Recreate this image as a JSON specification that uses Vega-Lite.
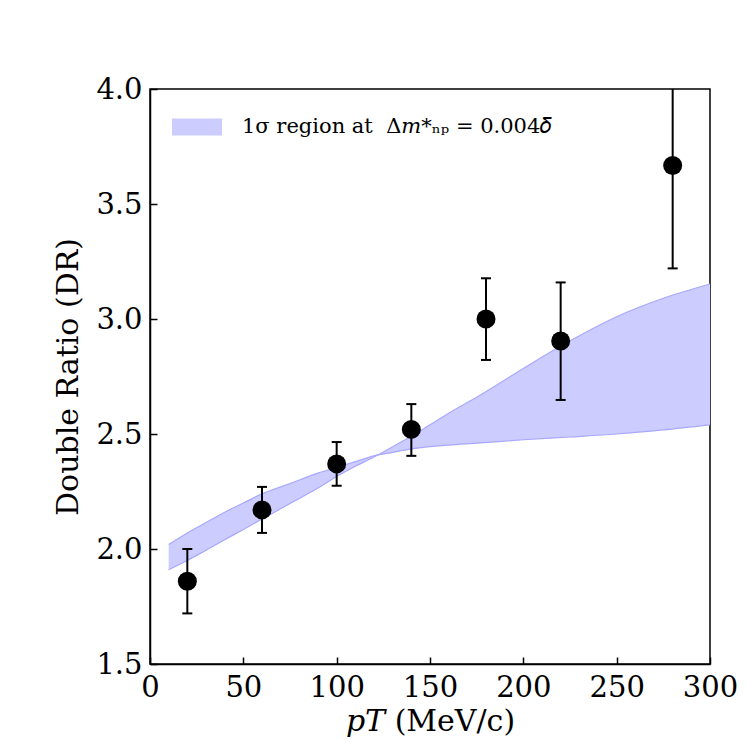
{
  "$schema": "https://vega.github.io/schema/vega-lite/v6.json",
  "autosize": "none",
  "width": 560,
  "height": 575,
  "padding": {"left": 150, "top": 89, "right": 37, "bottom": 83},
  "background": "white",
  "config": {
    "font": "DejaVu Serif",
    "view": {"stroke": "black", "strokeWidth": 1.5},
    "axis": {
      "domainColor": "black",
      "domainWidth": 1.5,
      "tickColor": "black",
      "tickWidth": 1.5,
      "tickSize": -7,
      "grid": false,
      "labelFlush": false,
      "labelFont": "DejaVu Serif",
      "labelFontSize": 29,
      "labelColor": "black",
      "titleFont": "DejaVu Serif",
      "titleFontSize": 30,
      "titleFontWeight": "normal",
      "titleColor": "black"
    }
  },
  "datasets": {
    "band": [
      {"pt": 10, "a": 2.02, "b": 1.91},
      {"pt": 20, "a": 2.07, "b": 1.95},
      {"pt": 30, "a": 2.115, "b": 1.995},
      {"pt": 40, "a": 2.16, "b": 2.04},
      {"pt": 50, "a": 2.2, "b": 2.085},
      {"pt": 60, "a": 2.24, "b": 2.13},
      {"pt": 70, "a": 2.27, "b": 2.175},
      {"pt": 80, "a": 2.3, "b": 2.22},
      {"pt": 90, "a": 2.33, "b": 2.265},
      {"pt": 100, "a": 2.355, "b": 2.315},
      {"pt": 110, "a": 2.38, "b": 2.36},
      {"pt": 120, "a": 2.405, "b": 2.4},
      {"pt": 130, "a": 2.42, "b": 2.445},
      {"pt": 140, "a": 2.435, "b": 2.49},
      {"pt": 150, "a": 2.445, "b": 2.54},
      {"pt": 160, "a": 2.452, "b": 2.59},
      {"pt": 175, "a": 2.46, "b": 2.66},
      {"pt": 200, "a": 2.475, "b": 2.785},
      {"pt": 225, "a": 2.487, "b": 2.905},
      {"pt": 250, "a": 2.5, "b": 3.01},
      {"pt": 275, "a": 2.518, "b": 3.09},
      {"pt": 300, "a": 2.54, "b": 3.152}
    ],
    "points": [
      {"pt": 20, "dr": 1.86, "lo": 1.72, "hi": 2.0},
      {"pt": 60, "dr": 2.17, "lo": 2.07, "hi": 2.27},
      {"pt": 100, "dr": 2.37, "lo": 2.275, "hi": 2.465},
      {"pt": 140, "dr": 2.52, "lo": 2.405, "hi": 2.63},
      {"pt": 180, "dr": 3.0, "lo": 2.822, "hi": 3.177},
      {"pt": 220, "dr": 2.904, "lo": 2.648, "hi": 3.159},
      {"pt": 280, "dr": 3.667, "lo": 3.22, "hi": 4.11}
    ]
  },
  "encoding": {
    "x": {
      "field": "pt",
      "type": "quantitative",
      "scale": {"domain": [0, 300], "nice": false},
      "axis": {"values": [0, 50, 100, 150, 200, 250, 300], "title": "𝑝𝑇 (MeV/c)", "labelPadding": 16, "titlePadding": 4}
    }
  },
  "layer": [
    {
      "data": {"name": "band"},
      "mark": {"type": "area", "opacity": 1, "interpolate": "monotone"},
      "encoding": {
        "y": {
          "field": "a",
          "type": "quantitative",
          "scale": {"domain": [1.5, 4.0], "nice": false},
          "axis": {"values": [1.5, 2.0, 2.5, 3.0, 3.5, 4.0], "format": ".1f", "title": "Double Ratio (DR)", "labelPadding": 15, "titlePadding": 12}
        },
        "y2": {"field": "b"},
        "color": {
          "datum": "1σ region at\u00a0\u00a0Δ𝑚*ₙₚ = 0.004𝛿",
          "type": "nominal",
          "scale": {"range": ["#ccccff"]},
          "legend": {
            "title": null,
            "orient": "none",
            "legendX": 22,
            "legendY": 13,
            "symbolType": "M-1,-0.34H1V0.34H-1Z",
            "symbolSize": 2500,
            "symbolStrokeWidth": 0,
            "symbolOpacity": 1,
            "labelFont": "DejaVu Serif",
            "labelFontSize": 21,
            "labelColor": "black",
            "labelOffset": 20,
            "labelLimit": 500
          }
        }
      }
    },
    {
      "data": {"name": "band"},
      "mark": {"type": "line", "color": "#a8a8ff", "strokeWidth": 1.2, "interpolate": "monotone"},
      "encoding": {"y": {"field": "a", "type": "quantitative"}}
    },
    {
      "data": {"name": "band"},
      "mark": {"type": "line", "color": "#a8a8ff", "strokeWidth": 1.2, "interpolate": "monotone"},
      "encoding": {"y": {"field": "b", "type": "quantitative"}}
    },
    {
      "data": {"name": "points"},
      "mark": {"type": "rule", "color": "black", "strokeWidth": 2, "clip": true},
      "encoding": {
        "y": {"field": "lo", "type": "quantitative"},
        "y2": {"field": "hi"}
      }
    },
    {
      "data": {"name": "points"},
      "mark": {"type": "tick", "orient": "horizontal", "color": "black", "size": 10, "thickness": 2, "clip": true, "opacity": 1},
      "encoding": {"y": {"field": "lo", "type": "quantitative"}}
    },
    {
      "data": {"name": "points"},
      "mark": {"type": "tick", "orient": "horizontal", "color": "black", "size": 10, "thickness": 2, "clip": true, "opacity": 1},
      "encoding": {"y": {"field": "hi", "type": "quantitative"}}
    },
    {
      "data": {"name": "points"},
      "mark": {"type": "point", "shape": "circle", "filled": true, "color": "black", "size": 361, "opacity": 1},
      "encoding": {"y": {"field": "dr", "type": "quantitative"}}
    }
  ]
}
